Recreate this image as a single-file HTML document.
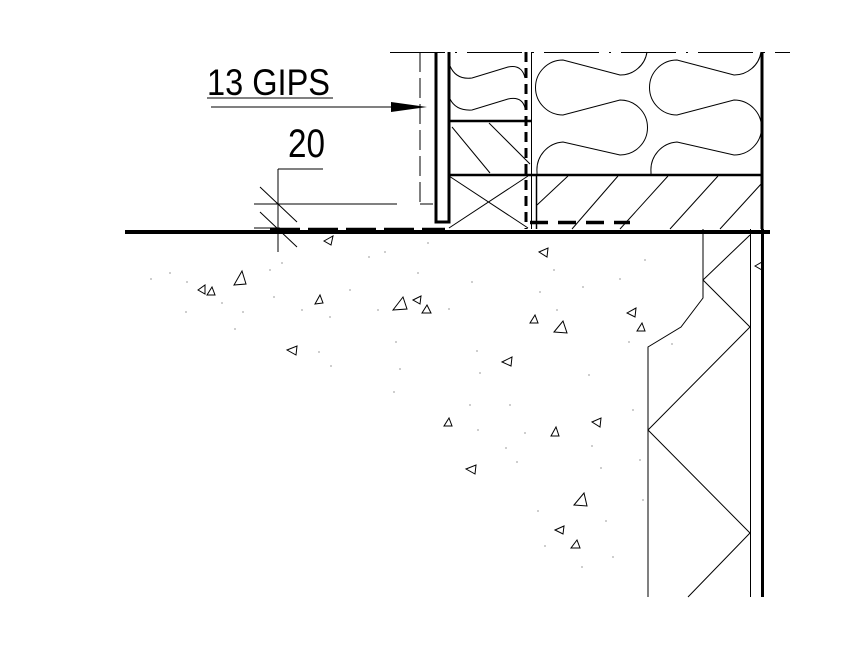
<!DOCTYPE html>
<html><head><meta charset="utf-8"><style>
html,body{margin:0;padding:0;background:#fff;}
svg{display:block;}
</style></head><body>
<svg width="844" height="653" viewBox="0 0 844 653" xmlns="http://www.w3.org/2000/svg">
<rect width="844" height="653" fill="#fff"/>
<g stroke="#000" fill="none" stroke-linecap="butt">
<line x1="390" y1="52.5" x2="790" y2="52.5" stroke-width="1" stroke-dasharray="55,10,2,10"/>
<line x1="420" y1="52" x2="420" y2="204" stroke-width="1" stroke-dasharray="20,6"/>
<line x1="420" y1="204" x2="433" y2="204" stroke-width="1"/>
<path d="M436,52 L436,222 L449,222 L449,52" stroke-width="3"/>
<line x1="449" y1="121" x2="531" y2="121" stroke-width="2.5"/>
<line x1="449" y1="175" x2="762" y2="175" stroke-width="2.5"/>
<line x1="526" y1="52" x2="526" y2="229" stroke-width="3" stroke-dasharray="10,6"/>
<line x1="531.5" y1="52" x2="531.5" y2="229" stroke-width="1"/>
<line x1="536.5" y1="175" x2="536.5" y2="229" stroke-width="1.5"/>
<line x1="762" y1="52" x2="762" y2="229" stroke-width="3"/>
<line x1="452" y1="127" x2="490" y2="173" stroke-width="1"/>
<line x1="489" y1="123" x2="530" y2="164" stroke-width="1"/>
<line x1="449" y1="176" x2="528" y2="228" stroke-width="1"/>
<line x1="449" y1="228" x2="528" y2="176" stroke-width="1"/>
<g stroke-width="1">
<line x1="537" y1="205" x2="568" y2="176"/>
<line x1="572" y1="229" x2="618" y2="176"/>
<line x1="620" y1="229" x2="668" y2="176"/>
<line x1="670" y1="229" x2="718" y2="176"/>
<line x1="720" y1="229" x2="762" y2="183"/>
</g>
<line x1="530" y1="222.5" x2="630" y2="222.5" stroke-width="3.5" stroke-dasharray="18,10"/>
<g stroke-width="1">
<path d="M450,66 Q456,80 472,78 L508,67 Q522,64 525,78"/>
<path d="M450,99 Q456,111 472,110 L508,99 Q522,96 525,108"/>
<path d="M647,52 A27 27 0 0 1 620,75 L563,60 A27.5 27.5 0 0 0 563,115 L620,100 A27.5 27.5 0 0 1 620,155 L563,142 A28 28 0 0 0 537,172 L537,175"/>
<path d="M761,52 A27 27 0 0 1 734,75 L677,60 A27.5 27.5 0 0 0 677,115 L734,100 A27.5 27.5 0 0 1 734,155 L677,142 A28 28 0 0 0 651,172 L651,175"/>
</g>
<line x1="125" y1="232" x2="770" y2="232" stroke-width="4"/>
<line x1="270" y1="229" x2="445" y2="229" stroke-width="2.5" stroke-dasharray="30,8"/>
<line x1="211" y1="107" x2="400" y2="107" stroke-width="1"/>
<path d="M391,102 L427,107 L391,112 Z" fill="#000" stroke="none"/>
<line x1="207" y1="98" x2="333" y2="98" stroke-width="1"/>
<line x1="278" y1="169" x2="323" y2="169" stroke-width="1"/>
<line x1="278" y1="169" x2="278" y2="252" stroke-width="1"/>
<line x1="254" y1="204" x2="397" y2="204" stroke-width="1"/>
<line x1="254" y1="228" x2="280" y2="228" stroke-width="1"/>
<line x1="260" y1="187" x2="297" y2="222" stroke-width="1"/>
<line x1="260" y1="212" x2="297" y2="247" stroke-width="1"/>
<line x1="762.5" y1="229" x2="762.5" y2="597" stroke-width="3"/>
<line x1="750.5" y1="229" x2="750.5" y2="597" stroke-width="1"/>
<path d="M703,229 L703,298 L681,327 L648,347 L648,597" stroke-width="1"/>
<path d="M750,235 L703,280 L750,327 L648,430 L750,533 L688,597" stroke-width="1"/>
<g stroke-width="1">
<path d="M234,285 L246,284 L242,271 Z"/>
<path d="M198,290 L205,285 L205,294 Z"/>
<path d="M207,295 L215,295 L212,287 Z"/>
<path d="M315,304 L323,303 L320,295 Z"/>
<path d="M393,310 L407,309 L403,297 Z"/>
<path d="M413,300 L421,296 L420,304 Z"/>
<path d="M422,313 L431,313 L427,305 Z"/>
<path d="M287,350 L297,346 L296,355 Z"/>
<path d="M324,241 L333,236 L331,245 Z"/>
<path d="M539,252 L548,248 L547,257 Z"/>
<path d="M530,323 L538,323 L535,315 Z"/>
<path d="M554,332 L567,333 L563,321 Z"/>
<path d="M502,362 L512,357 L511,366 Z"/>
<path d="M444,426 L452,426 L449,418 Z"/>
<path d="M551,436 L559,436 L556,427 Z"/>
<path d="M592,422 L601,418 L600,427 Z"/>
<path d="M466,469 L476,465 L475,474 Z"/>
<path d="M574,505 L587,506 L584,493 Z"/>
<path d="M555,530 L564,526 L563,534 Z"/>
<path d="M571,548 L580,548 L577,540 Z"/>
<path d="M627,313 L636,308 L635,317 Z"/>
<path d="M637,331 L645,331 L642,323 Z"/>
<path d="M755,266 L762,262 L762,270 Z"/>
</g>
</g>
<g fill="#555">
<circle cx="151" cy="279" r="0.6"/><circle cx="170" cy="273" r="0.6"/><circle cx="187" cy="282" r="0.6"/><circle cx="186" cy="312" r="0.6"/><circle cx="222" cy="303" r="0.6"/><circle cx="235" cy="329" r="0.6"/><circle cx="243" cy="312" r="0.6"/><circle cx="270" cy="270" r="0.6"/><circle cx="274" cy="297" r="0.6"/><circle cx="282" cy="263" r="0.6"/><circle cx="302" cy="310" r="0.6"/><circle cx="330" cy="317" r="0.6"/><circle cx="319" cy="352" r="0.6"/><circle cx="331" cy="366" r="0.6"/><circle cx="350" cy="290" r="0.6"/><circle cx="369" cy="257" r="0.6"/><circle cx="378" cy="310" r="0.6"/><circle cx="385" cy="252" r="0.6"/><circle cx="396" cy="342" r="0.6"/><circle cx="400" cy="369" r="0.6"/><circle cx="394" cy="392" r="0.6"/><circle cx="418" cy="273" r="0.6"/><circle cx="428" cy="243" r="0.6"/><circle cx="449" cy="309" r="0.6"/><circle cx="472" cy="282" r="0.6"/><circle cx="477" cy="351" r="0.6"/><circle cx="480" cy="373" r="0.6"/><circle cx="470" cy="405" r="0.6"/><circle cx="478" cy="430" r="0.6"/><circle cx="506" cy="448" r="0.6"/><circle cx="510" cy="405" r="0.6"/><circle cx="517" cy="462" r="0.6"/><circle cx="525" cy="433" r="0.6"/><circle cx="540" cy="292" r="0.6"/><circle cx="554" cy="270" r="0.6"/><circle cx="557" cy="310" r="0.6"/><circle cx="583" cy="287" r="0.6"/><circle cx="589" cy="375" r="0.6"/><circle cx="592" cy="446" r="0.6"/><circle cx="601" cy="468" r="0.6"/><circle cx="606" cy="521" r="0.6"/><circle cx="613" cy="557" r="0.6"/><circle cx="620" cy="279" r="0.6"/><circle cx="629" cy="342" r="0.6"/><circle cx="633" cy="410" r="0.6"/><circle cx="640" cy="460" r="0.6"/><circle cx="643" cy="500" r="0.6"/><circle cx="538" cy="511" r="0.6"/><circle cx="545" cy="546" r="0.6"/><circle cx="582" cy="567" r="0.6"/><circle cx="672" cy="344" r="0.6"/><circle cx="645" cy="260" r="0.6"/>
</g>
<g font-family="'Liberation Sans', 'DejaVu Sans', sans-serif" fill="#000">
<text x="207" y="95" font-size="37" textLength="123" lengthAdjust="spacingAndGlyphs">13 GIPS</text>
<text x="288" y="157" font-size="40" textLength="37" lengthAdjust="spacingAndGlyphs">20</text>
</g>
</svg>
</body></html>
